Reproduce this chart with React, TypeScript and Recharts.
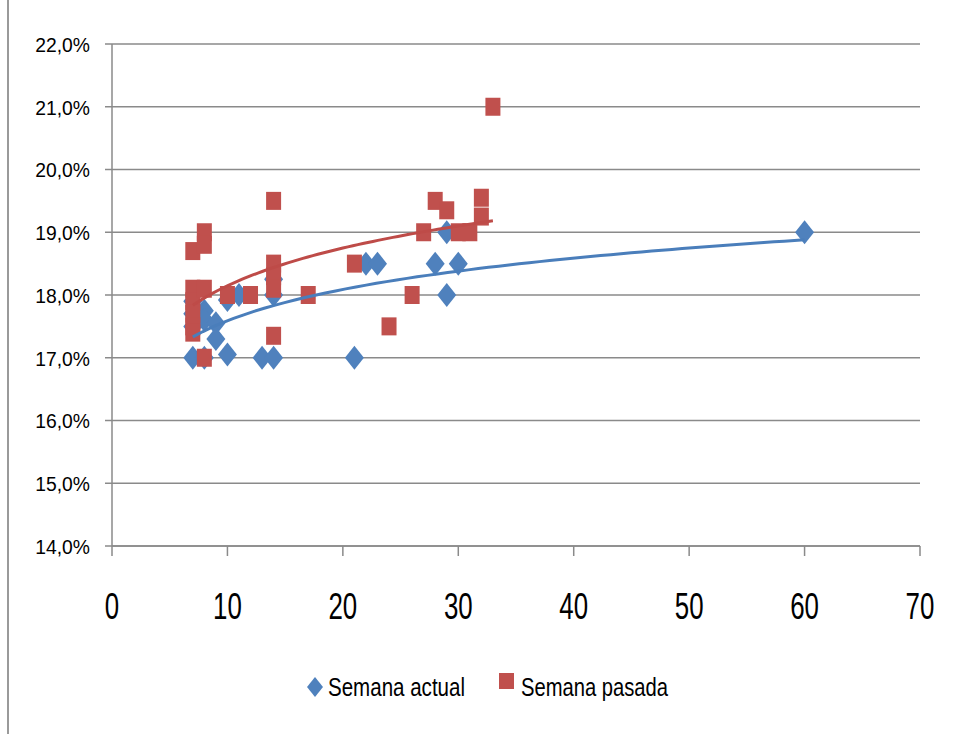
import { ScatterChart, Scatter, XAxis, YAxis, CartesianGrid } from 'recharts';

// Semana actual (días, tasa %)
const actualX = [7, 7, 7, 7, 8, 8, 8, 9, 9, 10, 10, 11, 13, 14, 14, 14, 21, 22, 23, 28, 29, 29, 30, 60];
const actualY = [17.0, 17.5, 17.7, 17.9, 17.0, 17.75, 17.6, 17.55, 17.3, 17.05, 17.92, 18.0, 17.0, 17.0, 18.0, 18.25, 17.0, 18.5, 18.5, 18.5, 19.0, 18.0, 18.5, 19.0];

// Semana pasada
const pasadaX = [7, 7, 7, 7, 7, 7, 8, 8, 8, 8, 10, 12, 14, 14, 14, 14, 14, 17, 21, 24, 26, 27, 28, 29, 30, 31, 32, 32, 33];
const pasadaY = [18.7, 18.1, 17.9, 17.7, 17.5, 17.4, 19.0, 18.8, 18.1, 17.0, 18.0, 18.0, 19.5, 18.5, 18.3, 18.1, 17.35, 18.0, 18.5, 17.5, 18.0, 19.0, 19.5, 19.35, 19.0, 19.0, 19.55, 19.25, 21.0];

const xTicks = [0, 10, 20, 30, 40, 50, 60, 70];
const yTicks = [14, 15, 16, 17, 18, 19, 20, 21, 22];

const BLUE = '#4f81bd';
const RED = '#c0504d';
const BLUE_LINE = '#4a7ebb';
const RED_LINE = '#be4b48';
const GRID = '#8a8a8a';
const FONT = '"Liberation Sans", Arial, sans-serif';

function toPoints(xs: number[], ys: number[]) {
  return xs.map((x, i) => ({ x, y: ys[i] }));
}

// logarithmic trendline (least squares on ln x), like Excel's
function logTrend(xs: number[], ys: number[]) {
  const n = xs.length;
  const lx = xs.map((x) => Math.log(x));
  const mx = lx.reduce((a, b) => a + b, 0) / n;
  const my = ys.reduce((a, b) => a + b, 0) / n;
  let sxy = 0;
  let sxx = 0;
  for (let i = 0; i < n; i++) {
    sxy += (lx[i] - mx) * (ys[i] - my);
    sxx += (lx[i] - mx) * (lx[i] - mx);
  }
  const b = sxy / sxx;
  const a = my - b * mx;
  const lo = Math.min(...xs);
  const hi = Math.max(...xs);
  const pts = [];
  const steps = 60;
  for (let k = 0; k <= steps; k++) {
    const x = lo + ((hi - lo) * k) / steps;
    pts.push({ x, y: a + b * Math.log(x) });
  }
  return pts;
}

const actualData = toPoints(actualX, actualY);
const pasadaData = toPoints(pasadaX, pasadaY);
const actualTrend = logTrend(actualX, actualY);
const pasadaTrend = logTrend(pasadaX, pasadaY);

const Diamond = (props: any) => {
  const { cx, cy } = props;
  if (cx == null || cy == null) return <g />;
  const w = 9.5;
  const h = 12;
  return (
    <polygon
      points={`${cx},${cy - h} ${cx + w},${cy} ${cx},${cy + h} ${cx - w},${cy}`}
      fill={BLUE}
    />
  );
};

const Square = (props: any) => {
  const { cx, cy } = props;
  if (cx == null || cy == null) return <g />;
  return <rect x={cx - 7.5} y={cy - 9} width={15} height={18} fill={RED} />;
};

const NoDot = () => <g />;

// narrow tick text (the original font is condensed)
const XTick = (props: any) => {
  const { x, y, payload } = props;
  return (
    <text
      x={x}
      y={y}
      dy={33}
      textAnchor="middle"
      fill="#000"
      fontSize={37}
      fontFamily={FONT}
      transform={`translate(${x},0) scale(0.7,1) translate(${-x},0)`}
    >
      {payload.value}
    </text>
  );
};

const YTick = (props: any) => {
  const { x, y, payload } = props;
  return (
    <text
      x={x}
      y={y}
      dy={8}
      textAnchor="end"
      fill="#000"
      fontSize={21}
      fontFamily={FONT}
      transform={`translate(${x},0) scale(0.92,1) translate(${-x},0)`}
    >
      {Number(payload.value).toFixed(1).replace('.', ',') + '%'}
    </text>
  );
};

export default function App() {
  return (
    <div style={{ position: 'absolute', left: 0, top: 0, width: 953, height: 734, background: '#fff' }}>
      <div style={{ position: 'absolute', left: 7, top: 0, width: 1.5, height: 734, background: '#9a9a9a' }} />
      <ScatterChart width={953} height={734} margin={{ top: 44, right: 33, bottom: 108, left: 32 }}>
        <CartesianGrid horizontal vertical={false} stroke={GRID} strokeWidth={1.5} />
        <XAxis
          type="number"
          dataKey="x"
          domain={[0, 70]}
          ticks={xTicks}
          interval={0}
          height={80}
          tickSize={10}
          tickMargin={30}
          axisLine={{ stroke: GRID, strokeWidth: 1.5 }}
          tickLine={{ stroke: GRID, strokeWidth: 1.5 }}
          tick={<XTick />}
        />
        <YAxis
          type="number"
          dataKey="y"
          domain={[14, 22]}
          ticks={yTicks}
          interval={0}
          width={80}
          tickSize={7}
          tickMargin={15}
          axisLine={{ stroke: GRID, strokeWidth: 1.5 }}
          tickLine={{ stroke: GRID, strokeWidth: 1.5 }}
          tick={<YTick />}
        />
        <Scatter name="Semana actual" data={actualData} fill={BLUE} shape={Diamond} isAnimationActive={false} />
        <Scatter name="Semana pasada" data={pasadaData} fill={RED} shape={Square} isAnimationActive={false} />
        <Scatter
          data={actualTrend}
          line={{ stroke: BLUE_LINE, strokeWidth: 3 }}
          lineType="joint"
          shape={NoDot}
          legendType="none"
          isAnimationActive={false}
        />
        <Scatter
          data={pasadaTrend}
          line={{ stroke: RED_LINE, strokeWidth: 3 }}
          lineType="joint"
          shape={NoDot}
          legendType="none"
          isAnimationActive={false}
        />
      </ScatterChart>
      <svg
        width={953}
        height={60}
        style={{ position: 'absolute', left: 0, top: 660 }}
        fontFamily={FONT}
      >
        <polygon points="315,17 323,27 315,37 307,27" fill={BLUE} />
        <text x={328} y={36} fontSize={25} fill="#000" textLength={137} lengthAdjust="spacingAndGlyphs">
          Semana actual
        </text>
        <rect x={499} y={13} width={15} height={16} fill={RED} />
        <text x={521} y={36} fontSize={25} fill="#000" textLength={147} lengthAdjust="spacingAndGlyphs">
          Semana pasada
        </text>
      </svg>
    </div>
  );
}
